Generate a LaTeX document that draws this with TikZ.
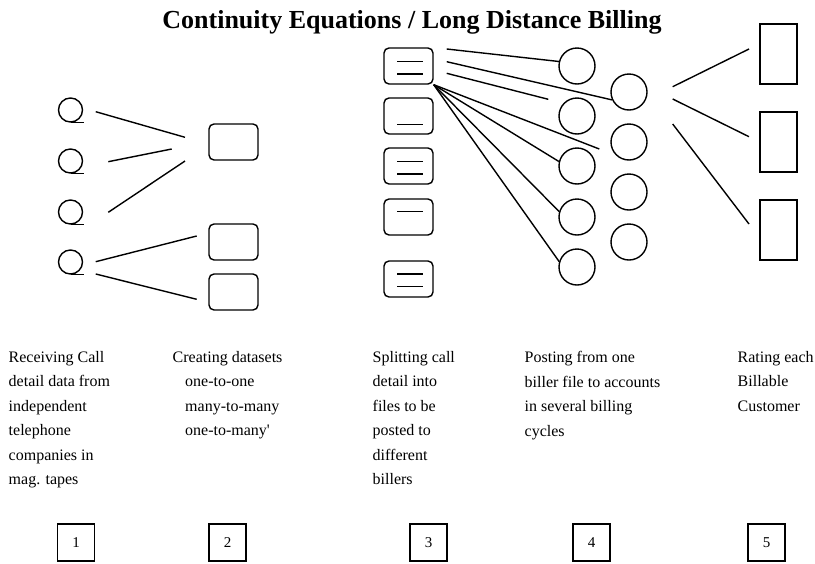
\documentclass[tikz,border=0pt]{standalone}
\usepackage{fontspec}
\setmainfont{Liberation Serif}
\begin{document}
\begin{tikzpicture}[x=1pt,y=-1pt,line width=1.4pt,
  tape/.style={draw,circle,minimum size=24pt,inner sep=0pt},
  dataset/.style={draw,rounded corners=5pt,minimum width=49pt,minimum height=36pt,inner sep=0pt},
  filebox/.style={draw,rounded corners=5pt,minimum width=49pt,minimum height=36pt,inner sep=0pt},
  acct/.style={draw,circle,minimum size=36pt,inner sep=0pt},
  cust/.style={draw,minimum width=37pt,minimum height=60pt,inner sep=0pt},
  numbox/.style={draw,minimum width=37pt,minimum height=37pt,inner sep=0pt,font=\fontsize{15}{18}\selectfont},
  coltext/.style={anchor=north west,align=left,inner sep=0pt,font=\fontsize{16}{24.5}\selectfont}]
\useasboundingbox (0,0) rectangle (815,563);
\fill[white] (0,0) rectangle (815,563);

% title
\node[anchor=base,font=\bfseries\fontsize{26}{30}\selectfont] (title) at (412,28) {Continuity Equations / Long Distance Billing};

% column 1: tapes
\foreach \i/\y in {1/110,2/161,3/212,4/262}{
  \node[tape] (q\i) at (70.5,\y) {};
  \draw (q\i.south) -- ++(13.5,0);
}
% column 2: datasets
\node[dataset] (d1) at (233.5,142) {};
\node[dataset] (d2) at (233.5,242) {};
\node[dataset] (d3) at (233.5,292) {};

\coordinate (a1) at (95.7,111.7);  \coordinate (b1) at (185,137.3);
\coordinate (a2) at (108.3,161.7); \coordinate (b2) at (171.7,149);
\coordinate (a3) at (108.3,212.3); \coordinate (b3) at (185,161);
\coordinate (a4) at (95.7,261.7);  \coordinate (b4) at (196.7,236);
\coordinate (a5) at (95.7,274);    \coordinate (b5) at (196.7,299.3);
\draw (a1) -- (b1);
\draw (a2) -- (b2);
\draw (a3) -- (b3);
\draw (a4) -- (b4);
\draw (a5) -- (b5);

% column 3: biller files
\node[filebox] (f1) at (408.5,66) {};
\node[filebox] (f2) at (408.5,116) {};
\node[filebox] (f3) at (408.5,166) {};
\node[filebox] (f4) at (408.5,217) {};
\node[filebox] (f5) at (408.5,279) {};
\draw (397,61.7) -- (423,61.7) (397,74) -- (423,74);
\draw (397,124.3) -- (423,124.3);
\draw (397,161.7) -- (423,161.7) (397,174) -- (423,174);
\draw (397,211.7) -- (423,211.7);
\draw (397,274) -- (423,274) (397,286.7) -- (423,286.7);

% column 4: accounts
\node[acct] (c1) at (577,66) {};
\node[acct] (c2) at (577,116) {};
\node[acct] (c3) at (577,166) {};
\node[acct] (c4) at (577,217) {};
\node[acct] (c5) at (577,267) {};
\node[acct] (e1) at (629,92) {};
\node[acct] (e2) at (629,142) {};
\node[acct] (e3) at (629,192) {};
\node[acct] (e4) at (629,242) {};

\coordinate (g1) at (446.7,49);
\coordinate (g2) at (446.7,61.7);
\coordinate (g3) at (446.7,73.3);
\coordinate (h3) at (548.3,99.3);
\coordinate (h4) at (599.3,149);
\draw (g1) -- (c1.166);
\draw (g2) -- (e1.205);
\draw (g3) -- (h3);
\draw (f1.south east) -- (h4);
\draw (f1.south east) -- (c3.166);
\draw (f1.south east) -- (c4.163);
\draw (f1.south east) -- (c5.163);

% column 5: customers
\node[cust] (r1) at (778.5,54) {};
\node[cust] (r2) at (778.5,142) {};
\node[cust] (r3) at (778.5,230) {};
\coordinate (k1) at (672.7,86.7); \coordinate (m1) at (749,49);
\coordinate (k2) at (672.7,99);   \coordinate (m2) at (749,136.7);
\coordinate (k3) at (672.7,124);  \coordinate (m3) at (749,224);
\draw (k1) -- (m1);
\draw (k2) -- (m2);
\draw (k3) -- (m3);

% descriptions
\node[coltext] (t1) at (8,350.6) {Receiving Call\\detail data from\\independent\\telephone\\companies in\\mag. tapes};
\node[coltext] (t2) at (172,350.6) {Creating datasets\\\hspace*{12.5pt}one-to-one\\\hspace*{12.5pt}many-to-many\\\hspace*{12.5pt}one-to-many\textquotesingle};
\node[coltext] (t3) at (372,350.6) {Splitting call\\detail into\\files to be\\posted to\\different\\billers};
\node[coltext] (t4) at (524,350.6) {Posting from one\\biller file to accounts\\in several billing\\cycles};
\node[coltext] (t5) at (737,350.6) {Rating each\\Billable\\Customer};

% step numbers
\node[numbox] (n1) at (76,542.5) {1};
\node[numbox] (n2) at (227.5,542.5) {2};
\node[numbox] (n3) at (428.5,542.5) {3};
\node[numbox] (n4) at (591.5,542.5) {4};
\node[numbox] (n5) at (766.5,542.5) {5};
\end{tikzpicture}
\end{document}
